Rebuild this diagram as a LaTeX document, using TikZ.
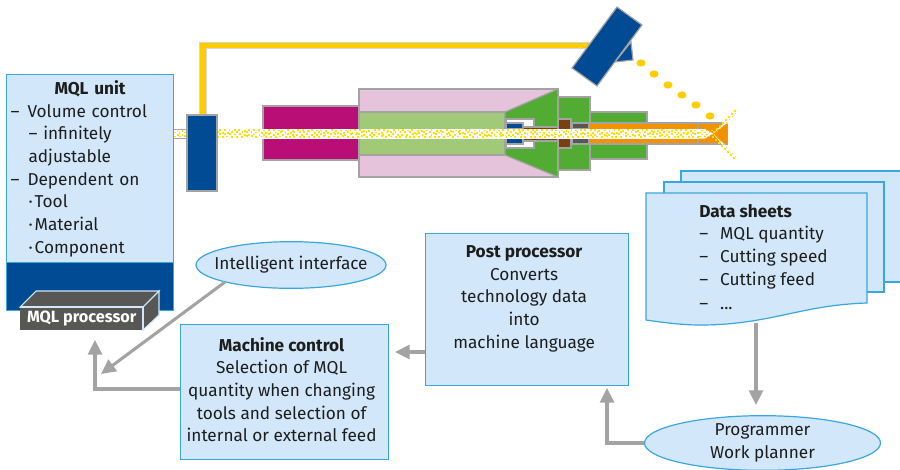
\documentclass[tikz,border=0pt]{standalone}
\usepackage{fontspec}
\setmainfont{Fira Sans}
\usetikzlibrary{arrows.meta,shapes.geometric,calc}
\definecolor{lb}{HTML}{D2E7FA}
\definecolor{lbd}{HTML}{3AA6DE}
\definecolor{dblue}{HTML}{004B93}
\definecolor{magen}{HTML}{B80E76}
\definecolor{pinkk}{HTML}{E5C3DA}
\definecolor{lgreen}{HTML}{A0CA78}
\definecolor{green2}{HTML}{52AC33}
\definecolor{orang}{HTML}{F39200}
\definecolor{yell}{HTML}{FFCC00}
\definecolor{spray}{HTML}{FFE000}
\definecolor{brownn}{HTML}{7B4012}
\definecolor{gry}{HTML}{A3A3A3}
\definecolor{dgry}{HTML}{575756}
\definecolor{txt}{HTML}{1D1D1B}
\newcommand\shl[1]{\kern-2.25pt\begin{tabular}{@{}c@{}}#1\end{tabular}\kern2.25pt}
\tikzset{
  x=0.75pt,y=-0.75pt,
  lab/.style={font=\fontsize{12.9pt}{17pt}\selectfont,text=txt,inner sep=0pt},
  bluebox/.style={lab,draw=lbd,fill=lb,line width=0.9pt,align=center,inner sep=0pt},
  sheetshape/.style={draw=lbd,fill=lb,line width=0.9pt},
  part/.style={draw=gry,line width=0.9pt},
  arr/.style={draw=gry,line width=2.3pt,-{Triangle[length=11pt,width=10.5pt,fill=gry]}},
}
\begin{document}
\begin{tikzpicture}
\useasboundingbox (0,0) rectangle (900,469);
% coolant line and nozzle
\draw[draw=gry!45,line width=0.6pt,fill=yell] (199,115) -- (199,42) -- (590,42) -- (590,48) -- (206,48) -- (206,115) -- cycle;
\draw[part,fill=magen] (263,106) rectangle (359,160);
\draw[part,fill=pinkk] (359,89) -- (558,89) -- (558,177) -- (359,177) -- cycle;
\draw[part,fill=lgreen] (359,112) rectangle (505,155);
\draw[part,fill=green2] (505,112) -- (558,89) -- (558,177) -- (505,155) -- cycle;
\draw[part,fill=green2] (558,97) rectangle (590,170);
\draw[part,fill=green2] (590,112) rectangle (647,159);
\draw[part,fill=white] (506,119) rectangle (534,148);
\draw[part,fill=dblue] (506,123) rectangle (523,129);
\draw[part,fill=dblue] (506,138) rectangle (523,144);
\draw[part,fill=brownn] (523,127) rectangle (558,129.5);
\draw[part,fill=brownn] (523,138) rectangle (558,141);
\draw[part,fill=brownn] (558,119) rectangle (571,148);
\draw[part,fill=dgry] (572,123) rectangle (589,129);
\draw[part,fill=dgry] (572,138) rectangle (589,144);
\draw[part,fill=orang] (589,123) -- (727,123) -- (727,144) -- (589,144) -- cycle;
\draw[part,line width=1.3pt] (698,123) -- (698,144);
% channel
\fill[white] (173,129) rectangle (698,138.5);
\fill[white] (698,129) -- (705,129) -- (713,133.5) -- (705,138.5) -- (698,138.5) -- cycle;
\draw[gry,line width=0.6pt] (173,129) -- (187,129) (173,138.5) -- (187,138.5) (173,129) -- (173,138.5);
\pgfmathsetseed{7}
\foreach \i in {0,...,218}{
  \foreach \r in {0,1,2,3}{
    \ifodd\numexpr\i+\r\relax
      \pgfmathsetmacro{\xx}{174+2.4*\i+rand*0.7}
      \pgfmathsetmacro{\yy}{129.4+2.1*\r+rand*0.4}
      \fill[spray] (\xx,\yy) rectangle +(1.9,1.9);
    \fi
  }
}
\foreach \t in {0,...,5}{
  \foreach \r in {0,1,2,3}{
    \ifodd\numexpr\t+\r\relax
      \fill[spray] ({699+2.4*\t},{129.6+2*\r}) rectangle +(1.8,1.8);
    \fi
  }
}
\fill[white] (713,133.5) -- (727,120) -- (736,110) -- (738,113) -- (728,123) -- cycle;
\fill[white] (713,133.5) -- (727,147) -- (735,157) -- (732,158) -- (725,148) -- cycle;
\fill[orang] (727,123.5) -- (713,133.5) -- (727,143.5) -- cycle;
\foreach \t in {0,...,7}{
  \fill[spray] ({713+3*\t},{131-3*\t}) rectangle +(1.8,1.8);
  \fill[spray] ({714+3*\t},{134-3*\t}) rectangle +(1.4,1.4);
  \fill[spray] ({712+3*\t},{136+3*\t}) rectangle +(1.8,1.8);
  \fill[spray] ({714+3*\t},{135+3*\t}) rectangle +(1.4,1.4);
}
\draw[part,fill=dblue] (187,115) rectangle (217,191);
% sprayer
\draw[part,fill=dblue] (631,42) -- (633,60) -- (615,62) -- cycle;
\draw[part,fill=dblue] (617,7) -- (642,25) -- (597,86) -- (572,68) -- cycle;
\foreach \dx/\dy in {641/63,654/74,668/85,682/95,696/105,710/116}
  \fill[yell] (\dx,\dy) ellipse [x radius=4.6,y radius=3.6];
% MQL unit
\node[bluebox,align=left,anchor=north west,minimum width=125.25pt,minimum height=141pt,text width=125.25pt] (mql) at (6,74) {%
  \makebox[\linewidth][c]{\textbf{MQL unit}}\\
  \hspace*{3pt}–\hspace{6pt}Volume control\\
  \hspace*{16.5pt}– infinitely\\
  \hspace*{16.5pt}adjustable\\
  \hspace*{3pt}–\hspace{6pt}Dependent on\\
  \hspace*{16.5pt}·\hspace{1.5pt}Tool\\
  \hspace*{16.5pt}·\hspace{1.5pt}Material\\
  \hspace*{16.5pt}·\hspace{1.5pt}Component};
\node[draw=lbd,fill=dblue,line width=0.9pt,anchor=north west,minimum width=125.25pt,minimum height=36pt,inner sep=0pt] (mqldark) at (6,262) {};
\draw[draw=lb,line width=0.8pt,fill=dgry] (20,307) -- (36,291) -- (159,291) -- (143,307) -- cycle;
\draw[draw=lb,line width=0.8pt,fill=dgry] (143,307) -- (159,291) -- (159,315) -- (143,330) -- cycle;
\node[draw=none,fill=dgry,anchor=north west,minimum width=92.25pt,minimum height=17.25pt,inner sep=0pt,text=white,font=\fontsize{12.2pt}{14pt}\selectfont\bfseries] (proc) at (20,307) {\raisebox{-1pt}{MQL processor}};
\draw[draw=lb,line width=0.8pt] (20,307) -- (143,307) -- (143,330);
% ellipses
\node[bluebox,ellipse,minimum width=142.5pt,minimum height=35pt,inner xsep=-8.75pt,inner ysep=0pt] (iface) at (291,265) {Intelligent interface};
\node[bluebox,ellipse,minimum width=177pt,minimum height=41pt] (prog) at (762.5,443) {Programmer\\Work planner};
% boxes
\node[bluebox,anchor=north west,minimum width=156pt,minimum height=101.25pt] (mach) at (180,324) {\shl{\textbf{Machine control}\\Selection of MQL\\quantity when changing\\tools and selection of\\internal or external feed}};
\node[bluebox,anchor=north west,minimum width=152.25pt,minimum height=114pt] (post) at (425,233) {\shl{\textbf{Post processor}\\Converts\\technology data\\into\\machine language\\\mbox{}}};
% data sheets
\path[sheetshape] (681,171) -- (905,171) -- (905,282) -- (681,282) -- cycle;
\path[sheetshape] (664,182) -- (884,182) -- (884,292) -- (664,292) -- cycle;
\path[sheetshape] (646,193) -- (867,193) -- (867,303) .. controls (800,305) and (770,325) .. (700,325) .. controls (680,325) and (660,322) .. (646,320) -- cycle;
\node[lab,align=left,anchor=north west] (sheets) at (699,204) {%
  \textbf{Data sheets}\\
  –\hspace{9pt}MQL quantity\\
  –\hspace{9pt}Cutting speed\\
  –\hspace{9pt}Cutting feed\\[1pt]
  –\hspace{9pt}...};
% connectors
\coordinate (sheetout) at (756,323);
\coordinate (progin) at (756,405);
\coordinate (postin) at (607,388);
\coordinate (machin) at (395,352);
\coordinate (procin) at (95,340);
\coordinate (ifaceout) at (101,374);
\coordinate (ifacestart) at (225,282);
\coordinate (machstart) at (180,389);
\coordinate (poststart) at (425,352);
\draw[arr] (sheetout) -- (progin);
\draw[arr] (prog.west) -| (postin);
\draw[arr] (poststart) -- (machin);
\draw[arr] (machstart) -| (procin);
\draw[arr] (ifacestart) -- (ifaceout);
\end{tikzpicture}
\end{document}
